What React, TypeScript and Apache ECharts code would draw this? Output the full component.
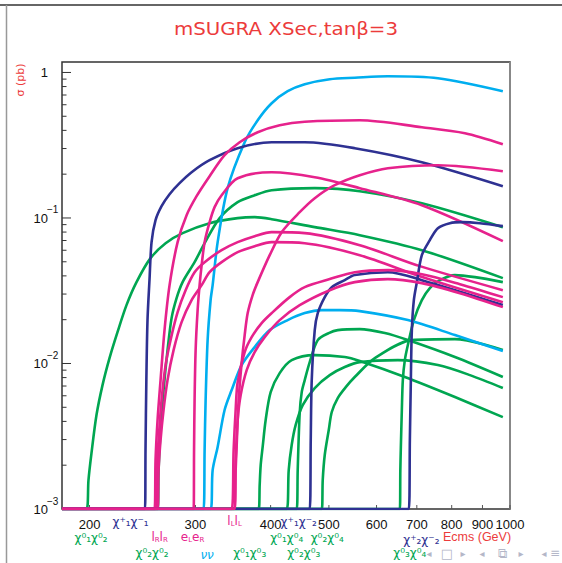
import React, { useEffect, useRef } from "react";
import * as echarts from "echarts";

type Pt = [number, number];

const X_MIN = 180;
const X_MAX = 1000;
const Y_MIN = 0.001;
const Y_MAX = 1.18;

const xTickValues = [200, 300, 400, 500, 600, 700, 800, 900, 1000];
const xTickLabels = ["200", "300", "400", "500", "600", "700", "800", "900", "1000"];
const yDecadeValues = [0.001, 0.01, 0.1, 1];
const yDecadeBase = ["10", "10", "10", "1"];
const yDecadeExp = ["−3", "−2", "−1", ""];

const GREEN = "#00a651";
const MAGENTA = "#e6228c";
const NAVY = "#2e3192";
const CYAN = "#00aeef";
const RED = "#ec3b3b";

// cross sections (pb) vs Ecms (GeV)
const chi01chi02: Pt[] = [[180,0.001],[197.7,0.001],[199.2,0.00158],[201.5,0.00242],[205.4,0.00442],[210.2,0.0071],[215.9,0.01089],[222.6,0.01643],[230.4,0.02518],[239.4,0.03623],[252.6,0.05296],[267.6,0.0671],[285.6,0.0787],[316.7,0.0921],[352.6,0.0997],[376.3,0.1013],[401.6,0.0981],[473.6,0.0865],[562.7,0.0762],[713.6,0.0601],[973,0.0386]];
const chi02chi02: Pt[] = [[180,0.001],[259.5,0.001],[260.5,0.00185],[262.5,0.00349],[265.5,0.00657],[269.6,0.01236],[273.8,0.0205],[279.1,0.02813],[285.6,0.03623],[299,0.0497],[310.7,0.0671],[329.1,0.0997],[352.6,0.1284],[376.3,0.1434],[401.6,0.1552],[473.6,0.1603],[562.7,0.1528],[713.6,0.1263],[973,0.0865]];
const chi01chi03: Pt[] = [[180,0.001],[382.1,0.001],[383.6,0.00146],[385.1,0.002],[388,0.00267],[392.5,0.00409],[400.1,0.00636],[414.1,0.00859],[433.6,0.01055],[473.6,0.01142],[531.3,0.01107],[562.7,0.01039],[668.6,0.00807],[809.9,0.00588],[973,0.00428]];
const chi01chi04: Pt[] = [[180,0.001],[425.4,0.001],[428.7,0.00185],[433.6,0.00275],[440.3,0.00378],[452.3,0.00518],[473.6,0.00678],[501.6,0.00832],[531.3,0.00945],[562.7,0.01022],[651,0.01055],[758.7,0.00975],[857.8,0.00832],[973,0.00678]];
const chi02chi03: Pt[] = [[180,0.001],[442,0.001],[443.7,0.00185],[447.1,0.00457],[450.6,0.00636],[455.8,0.00769],[464.6,0.01022],[479.1,0.01448],[499.7,0.01618],[517.2,0.01696],[562.7,0.01723],[619.3,0.01618],[676.4,0.01448],[809.9,0.01107],[973,0.00807]];
const chi02chi04: Pt[] = [[180,0.001],[486.5,0.001],[488.3,0.00158],[492.1,0.00235],[499.7,0.00349],[505.5,0.00464],[517.2,0.00579],[533.3,0.00688],[552,0.00807],[596.1,0.01089],[686.8,0.01448],[809.9,0.01471],[973,0.01236]];
const chi03chi04: Pt[] = [[180,0.001],[656,0.001],[657.2,0.00185],[658.5,0.00267],[661,0.00479],[663.5,0.00769],[668.6,0.01055],[676.4,0.01338],[692.1,0.01987],[713.6,0.02726],[735.8,0.033],[764.6,0.0374],[809.9,0.0405],[874.4,0.0392],[973,0.03623]];
const nunuA: Pt[] = [[180,0.001],[309.5,0.001],[310.7,0.00254],[311.9,0.0056],[314.3,0.01448],[317.9,0.02726],[320.4,0.03454],[326.6,0.0682],[339.3,0.1603],[362.2,0.3317],[380.7,0.4696],[401.6,0.6145],[427,0.743],[455.8,0.8299],[501.6,0.8981],[552,0.9196],[626.5,0.9417],[758.7,0.9124],[973,0.743]];
const nunuB: Pt[] = [[180,0.001],[317.9,0.001],[320.4,0.00185],[326.6,0.00267],[335.4,0.00479],[344.6,0.00657],[358,0.00975],[376.3,0.01296],[398.6,0.01696],[427,0.01987],[455.8,0.02219],[486.5,0.02327],[521.2,0.02327],[562.7,0.0229],[676.4,0.01987],[809.9,0.01567],[973,0.01217]];
const chi1pchi1m: Pt[] = [[180,0.001],[247.3,0.001],[247.8,0.00254],[248.6,0.00769],[249.7,0.0199],[251.6,0.0374],[253.6,0.0682],[257.5,0.0966],[263.5,0.1205],[271.7,0.1457],[282.3,0.1734],[295.6,0.2063],[316.7,0.2495],[352.6,0.3017],[401.6,0.3317],[455.8,0.3317],[552,0.3017],[713.6,0.2417],[973,0.1654]];
const chi1pchi2m: Pt[] = [[180,0.001],[464.6,0.001],[466.4,0.00298],[468.2,0.00769],[473.6,0.01696],[479.1,0.02219],[492.1,0.02858],[505.5,0.03346],[531.3,0.0374],[552,0.0405],[626.5,0.0424],[713.6,0.0374],[973,0.0252]];
const chi2pchi2m: Pt[] = [[180,0.001],[679,0.001],[681.6,0.00298],[684.2,0.00769],[686.8,0.01696],[692.1,0.02726],[700.1,0.0362],[713.6,0.0555],[735.8,0.0704],[758.7,0.0851],[794.4,0.0921],[831.9,0.0936],[891.3,0.0921],[973,0.0879]];
const eReR: Pt[] = [[180,0.001],[256.5,0.001],[257.5,0.00217],[259.5,0.00409],[262.5,0.00769],[266.5,0.01696],[271.7,0.03454],[280.2,0.0682],[290,0.1045],[301.3,0.1412],[316.7,0.1937],[335.4,0.27],[355.3,0.3317],[380.7,0.3884],[414.1,0.4339],[455.8,0.4585],[562.7,0.4696],[713.6,0.4204],[841.5,0.3823],[973,0.3214]];
const eLeR: Pt[] = [[180,0.001],[297.9,0.001],[298.4,0.00254],[299,0.0056],[300.2,0.01236],[302.5,0.02327],[304.8,0.03454],[307.2,0.0474],[310.7,0.0682],[316.7,0.0936],[322.8,0.1187],[331.6,0.1434],[352.6,0.1876],[401.6,0.2063],[473.6,0.1906],[562.7,0.1603],[713.6,0.1224],[973,0.0693]];
const eLeL: Pt[] = [[180,0.001],[348.5,0.001],[349.9,0.00185],[351.2,0.00267],[353.9,0.0056],[358,0.01006],[362.2,0.01567],[366.4,0.02219],[373.4,0.02953],[380.7,0.03623],[398.6,0.0555],[417.3,0.0799],[447.1,0.1096],[473.6,0.1368],[511.3,0.168],[562.7,0.1968],[626.5,0.2198],[758.7,0.2305],[973,0.2096]];
const muRmuR: Pt[] = [[180,0.001],[257.5,0.001],[258.5,0.00185],[260.5,0.00298],[263.5,0.0056],[267.6,0.00975],[272.7,0.01448],[280.2,0.02254],[288.9,0.0319],[299,0.0424],[310.7,0.0497],[331.6,0.0601],[352.6,0.0682],[376.3,0.075],[401.6,0.0799],[455.8,0.0787],[562.7,0.065],[708.2,0.04667],[973,0.0319]];
const tau1tau1: Pt[] = [[180,0.001],[259.5,0.001],[260.5,0.00185],[262.5,0.00298],[265.5,0.00479],[269.6,0.00769],[275.9,0.01236],[284.5,0.01925],[295.6,0.02726],[307.2,0.03454],[316.7,0.0424],[331.6,0.0497],[352.6,0.0582],[376.3,0.064],[401.6,0.0682],[455.8,0.0671],[562.7,0.0555],[708.2,0.0398],[973,0.0264]];
const muLmuL: Pt[] = [[180,0.001],[344.6,0.001],[347.2,0.00254],[349.9,0.00479],[352.6,0.00745],[362.2,0.01197],[372,0.01518],[386.5,0.01894],[401.6,0.02219],[430.3,0.02858],[455.8,0.03346],[501.6,0.038],[552,0.0424],[626.5,0.0438],[713.6,0.0411],[825.5,0.0351],[973,0.02858]];
const tau2tau2: Pt[] = [[180,0.001],[347.2,0.001],[349.9,0.00217],[352.6,0.00409],[356.7,0.00607],[365,0.00901],[376.3,0.01197],[391,0.01518],[414.1,0.01987],[447.1,0.02518],[501.6,0.0319],[552,0.03623],[626.5,0.038],[713.6,0.03567],[825.5,0.03044],[973,0.0244]];

const seriesDefs = [
  { name: "chi01chi02", color: GREEN, data: chi01chi02 },
  { name: "chi02chi02", color: GREEN, data: chi02chi02 },
  { name: "chi01chi03", color: GREEN, data: chi01chi03 },
  { name: "chi01chi04", color: GREEN, data: chi01chi04 },
  { name: "chi02chi03", color: GREEN, data: chi02chi03 },
  { name: "chi02chi04", color: GREEN, data: chi02chi04 },
  { name: "chi03chi04", color: GREEN, data: chi03chi04 },
  { name: "nunuA", color: CYAN, data: nunuA },
  { name: "nunuB", color: CYAN, data: nunuB },
  { name: "chi1pchi1m", color: NAVY, data: chi1pchi1m },
  { name: "chi1pchi2m", color: NAVY, data: chi1pchi2m },
  { name: "eReR", color: MAGENTA, data: eReR },
  { name: "eLeR", color: MAGENTA, data: eLeR },
  { name: "muRmuR", color: MAGENTA, data: muRmuR },
  { name: "tau1tau1", color: MAGENTA, data: tau1tau1 },
  { name: "chi2pchi2m", color: NAVY, data: chi2pchi2m },
  { name: "eLeL", color: MAGENTA, data: eLeL },
  { name: "muLmuL", color: MAGENTA, data: muLmuL },
  { name: "tau2tau2", color: MAGENTA, data: tau2tau2 },
];

// channel annotations under the axis: energy position (GeV) and text row
const rowOffsets = [13, 29, 44];
const channelLabels = [
  { text: "χ⁺₁χ⁻₁", color: NAVY, e: 234.0, row: 0, dy: 0 },
  { text: "{m|l}{s|L}{m|l}{s|L}", color: MAGENTA, e: 348.5, row: 0, dy: -1 },
  { text: "χ⁺₁χ⁻₂", color: NAVY, e: 445.4, row: 0, dy: 0 },
  { text: "χ⁰₁χ⁰₂", color: GREEN, e: 201.2, row: 1, dy: 0 },
  { text: "{m|l}{s|R}{m|l}{s|R}", color: MAGENTA, e: 261.5, row: 1, dy: -1 },
  { text: "{m|e}{s|L}{m|e}{s|R}", color: MAGENTA, e: 296.7, row: 1, dy: -1 },
  { text: "χ⁰₁χ⁰₄", color: GREEN, e: 425.4, row: 1, dy: 0 },
  { text: "χ⁰₂χ⁰₄", color: GREEN, e: 496.8, row: 1, dy: 0 },
  { text: "χ⁺₂χ⁻₂", color: NAVY, e: 712.3, row: 1, dy: 2 },
  { text: "χ⁰₂χ⁰₂", color: GREEN, e: 254.1, row: 2, dy: 0 },
  { text: "νν", color: CYAN, e: 313.7, row: 2, dy: 2 },
  { text: "χ⁰₁χ⁰₃", color: GREEN, e: 369.2, row: 2, dy: 0 },
  { text: "χ⁰₂χ⁰₃", color: GREEN, e: 454.0, row: 2, dy: 0 },
  { text: "χ⁰₃χ⁰₄", color: GREEN, e: 681.6, row: 2, dy: 0 },
];

const navSymbols = [
  ["◂", 429, 10], ["□", 447, 13], ["▸", 463, 10], ["◂", 482, 10], ["⧉", 502, 13], ["▸", 521, 10], ["◂", 544, 10], ["≡", 555, 12],
] as [string, number, number][];

export default function App() {
  const ref = useRef<HTMLDivElement>(null);
  useEffect(() => {
    const el = ref.current!;
    const chart = echarts.init(el, null, { renderer: "svg" });
    chart.setOption({
      animation: false,
      grid: { left: 62, right: 52, top: 62, bottom: 54, show: true, borderColor: "#333", borderWidth: 1.5, backgroundColor: "transparent" },
      xAxis: {
        type: "log", logBase: 10, min: X_MIN, max: X_MAX,
        axisLine: { show: false }, axisTick: { show: false }, axisLabel: { show: false }, splitLine: { show: false },
      },
      yAxis: {
        type: "log", logBase: 10, min: Y_MIN, max: Y_MAX,
        axisLine: { show: false }, axisTick: { show: false }, axisLabel: { show: false }, splitLine: { show: false },
      },
      series: seriesDefs.map((s) => ({
        type: "line", name: s.name, data: s.data, showSymbol: false, symbol: "none",
        smooth: 0.3, lineStyle: { width: 2.6, color: s.color }, itemStyle: { color: s.color },
      })),
    });

    const px = (e: number) => chart.convertToPixel({ xAxisIndex: 0 }, e) as number;
    const py = (v: number) => chart.convertToPixel({ yAxisIndex: 0 }, v) as number;
    const x0 = px(X_MIN);
    const x1 = px(X_MAX);
    const y0 = py(Y_MIN);
    const yTop = py(Y_MAX);
    const g: any[] = [];

    // slide chrome
    g.push({ type: "line", shape: { x1: 0, y1: 5, x2: 562, y2: 5 }, style: { stroke: "#333", lineWidth: 1.5 } });
    g.push({ type: "line", shape: { x1: 6.5, y1: 5, x2: 6.5, y2: 563 }, style: { stroke: "#999", lineWidth: 1.5 } });
    g.push({ type: "line", shape: { x1: x1, y1: yTop, x2: x1, y2: y0 }, style: { stroke: "#888", lineWidth: 2 } });
    navSymbols.forEach(([t, x, fs]) =>
      g.push({ type: "text", x, y: 553, style: { text: t, fill: "#b4b7c8", fontSize: fs, fontFamily: "DejaVu Sans", textAlign: "center", textVerticalAlign: "middle" } })
    );

    // y ticks
    for (let d = -3; d <= 0; d++) {
      for (let m = 1; m <= 9; m++) {
        const v = m * Math.pow(10, d);
        if (v > Y_MAX) break;
        const y = py(v);
        const len = m === 1 ? 9 : 4.5;
        g.push({ type: "line", shape: { x1: x0, y1: y, x2: x0 + len, y2: y }, style: { stroke: "#333", lineWidth: 1 } });
      }
    }
    // x ticks and labels
    xTickValues.forEach((v, i) => {
      const x = px(v);
      g.push({ type: "line", shape: { x1: x, y1: y0, x2: x, y2: y0 - 4 }, style: { stroke: "#555", lineWidth: 1 } });
      g.push({ type: "text", x, y: y0 + 15, style: { text: xTickLabels[i], fill: "#111", fontSize: 13, fontFamily: "Liberation Sans", textAlign: "center", textVerticalAlign: "middle" } });
    });
    // y labels
    yDecadeValues.forEach((v, i) => {
      const y = py(v);
      g.push({ type: "text", x: x0 - 14, y: y + 0.5, style: { text: yDecadeBase[i], fill: "#111", fontSize: 13, fontFamily: "Liberation Sans", textAlign: "right", textVerticalAlign: "middle" } });
      if (yDecadeExp[i]) {
        g.push({ type: "text", x: x0 - 15, y: y - 8, style: { text: yDecadeExp[i], fill: "#111", fontSize: 10, fontFamily: "Liberation Sans", textAlign: "left", textVerticalAlign: "middle" } });
      }
    });

    // title and axis names
    g.push({ type: "text", x: 286, y: 28, scaleX: 1.1, style: { text: "mSUGRA XSec,tanβ=3", fill: RED, fontSize: 18, fontFamily: "DejaVu Sans", textAlign: "center", textVerticalAlign: "middle" } });
    g.push({ type: "text", x: 20, y: 80, rotation: Math.PI / 2, style: { text: "σ (pb)", fill: RED, fontSize: 11, fontFamily: "DejaVu Sans", textAlign: "center", textVerticalAlign: "middle" } });
    g.push({ type: "text", x: 443, y: y0 + 28, style: { text: "Ecms (GeV)", fill: RED, fontSize: 12.5, fontFamily: "Liberation Sans", textAlign: "left", textVerticalAlign: "middle" } });

    // channel labels
    channelLabels.forEach((l) => {
      g.push({
        type: "text", x: px(l.e), y: y0 + rowOffsets[l.row] + l.dy,
        style: {
          text: l.text, fill: l.color, fontSize: 12, fontFamily: "DejaVu Sans",
          fontStyle: l.text === "νν" ? "italic" : "normal",
          textAlign: "center", textVerticalAlign: "middle",
          rich: {
            m: { fontSize: 12, fill: l.color, fontFamily: "DejaVu Sans", verticalAlign: "bottom" },
            s: { fontSize: 7, fill: l.color, fontFamily: "DejaVu Sans", verticalAlign: "bottom" },
          },
        },
      });
    });

    chart.setOption({ graphic: g });
    return () => chart.dispose();
  }, []);
  return <div ref={ref} style={{ position: "absolute", left: 0, top: 0, width: 562, height: 563 }} />;
}
